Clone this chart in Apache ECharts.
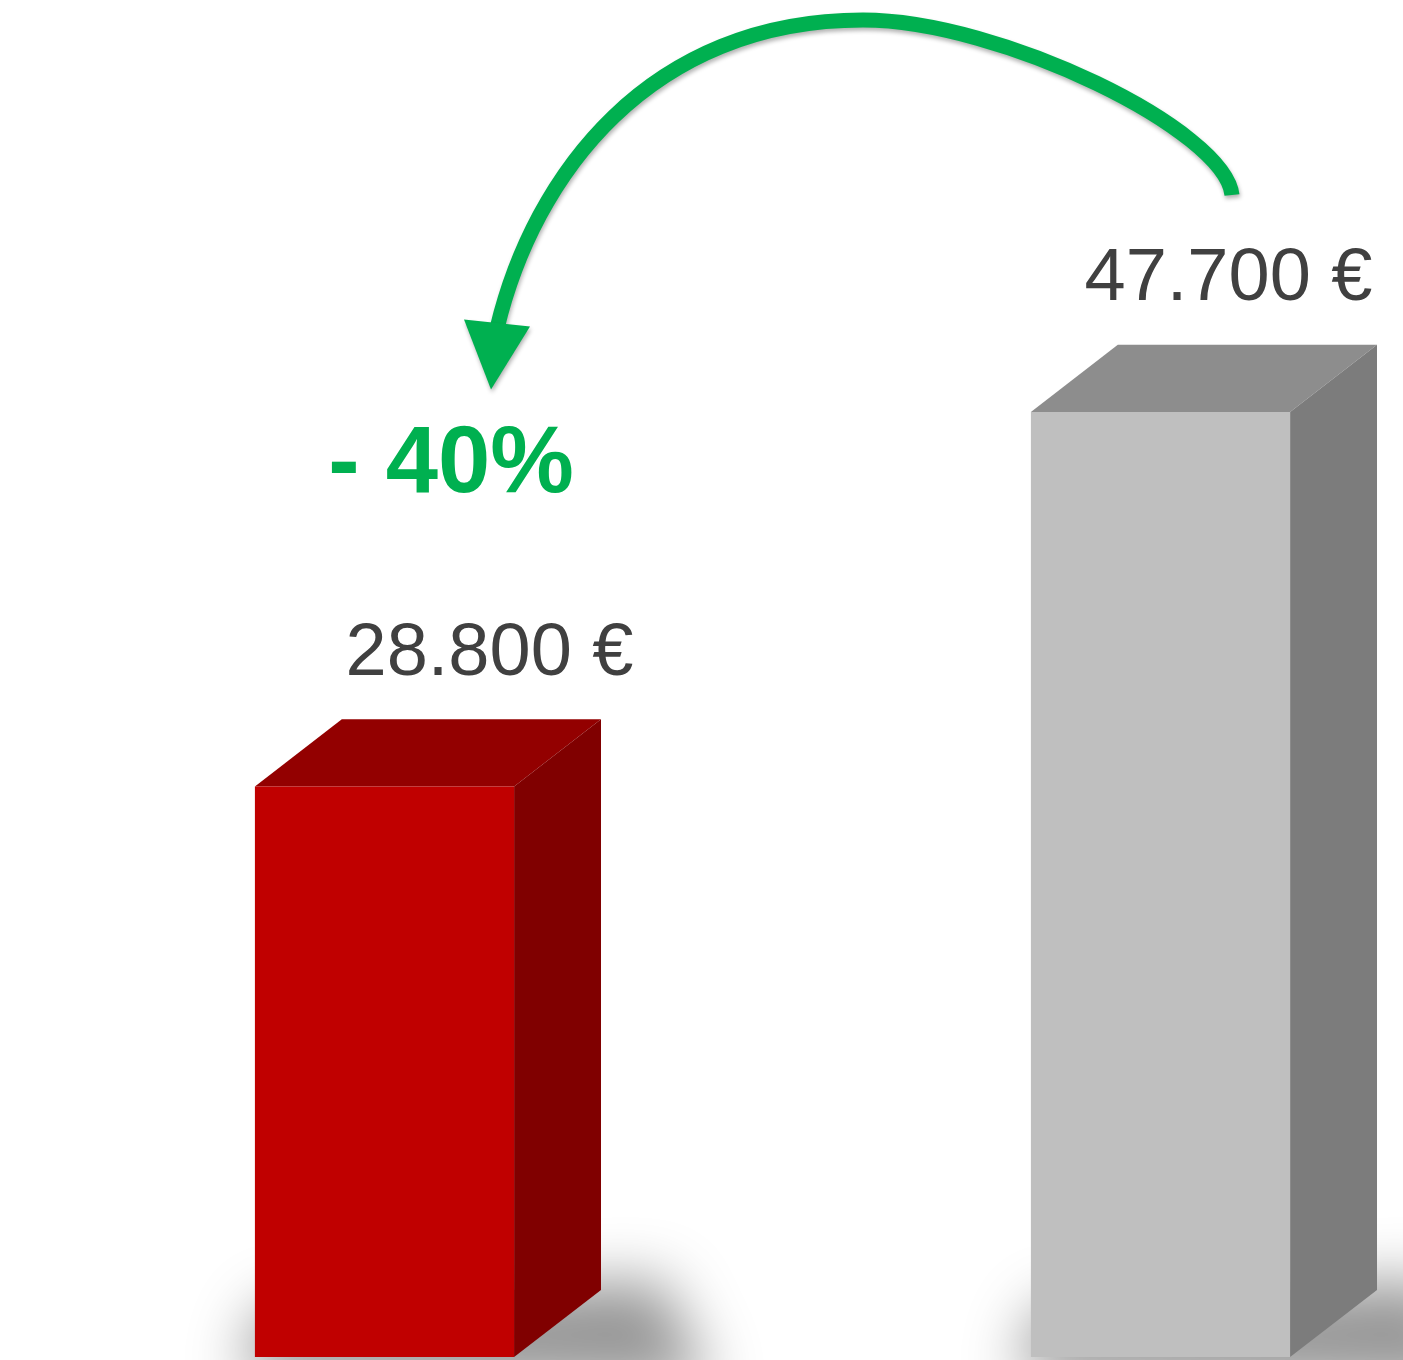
<!DOCTYPE html>
<html><head><meta charset="utf-8">
<script src="https://cdn.jsdelivr.net/npm/echarts@6/dist/echarts.min.js"></script>
<style>html,body{margin:0;padding:0;background:#fff}#c{width:1403px;height:1360px}</style>
</head><body><div id="c"></div>
<script>
// ---- data ----
const categories = ['A', 'B'];
const values = [28800, 47700];
const axisMax = 60000;

// ---- styles ----
const faceFront = ['#C00000', '#BFBFBF'];
const faceTop = ['#930000', '#8D8D8D'];
const faceSide = ['#800000', '#7C7C7C'];
const labelShift = [105, 68];
const green = '#00B050';

function fmt(v) {
  return String(v).replace(/\B(?=(\d{3})+(?!\d))/g, '.') + ' €';
}

function geom(api) {
  const spacing = api.coord([1, 0])[0] - api.coord([0, 0])[0];
  return { w: spacing * 0.334, dx: spacing * 0.112, dy: spacing * 0.0865 };
}

function renderBar(params, api) {
  const i = params.dataIndex;
  const top = api.coord([i, api.value(1)]);
  const bot = api.coord([i, 0]);
  const g = geom(api);
  const x0 = top[0] - g.w / 2, x1 = top[0] + g.w / 2;
  const yt = top[1], yb = bot[1];
  const OFF = 4000;
  const sh = [[x0 - 15, yb + 20], [x0 + 10, yb - 50], [x1 + g.dx + 60, yb - g.dy - 10], [x1 + g.dx + 110, yb + 30]]
    .map(p => [p[0] - OFF, p[1]]);
  return {
    type: 'group',
    children: [
      { type: 'polygon', shape: { points: sh },
        style: { fill: '#000', shadowBlur: 60, shadowColor: 'rgba(0,0,0,0.42)', shadowOffsetX: OFF, shadowOffsetY: 0 } },
      { type: 'polygon', shape: { points: [[x0, yt], [x0 + g.dx, yt - g.dy], [x1 + g.dx, yt - g.dy], [x1, yt]] },
        style: { fill: faceTop[i] } },
      { type: 'polygon', shape: { points: [[x1, yt], [x1 + g.dx, yt - g.dy], [x1 + g.dx, yb - g.dy], [x1, yb]] },
        style: { fill: faceSide[i] } },
      { type: 'rect', shape: { x: x0, y: yt, width: g.w, height: yb - yt },
        style: { fill: faceFront[i] } },
      { type: 'text',
        style: { text: fmt(api.value(1)), x: top[0] + labelShift[i], y: yt - g.dy - 65,
          align: 'center', verticalAlign: 'middle',
          font: '74px "Liberation Sans", Arial, sans-serif', fill: '#404040' } }
    ]
  };
}

function renderArrow(params, api) {
  const R = api.coord([0, values[0]]);
  const G = api.coord([1, values[1]]);
  const P = (b, dx, dy) => [b[0] + dx, b[1] + dy];
  const s0 = P(G, 71.5, -217), s1 = P(G, 64.5, -282), s2 = P(G, -160.5, -392), s3 = P(G, -297.5, -392);
  const t1 = P(R, 265.5, -766.4), t2 = P(R, 149.5, -612.4), t3 = P(R, 112.5, -458);
  const tip = P(R, 106.5, -397), b1 = P(R, 79.5, -467), b2 = P(R, 145.5, -460);
  const pct = Math.round((values[1] - values[0]) / values[1] * 100);
  const f = p => p[0].toFixed(1) + ' ' + p[1].toFixed(1);
  const pathD = 'M ' + f(s0) + ' C ' + f(s1) + ' ' + f(s2) + ' ' + f(s3) +
    ' C ' + f(t1) + ' ' + f(t2) + ' ' + f(t3);
  return {
    type: 'group',
    children: [
      { type: 'path', shape: { pathData: pathD },
        style: { stroke: green, lineWidth: 15, fill: null, lineCap: 'butt', lineJoin: 'round',
          shadowBlur: 4, shadowColor: 'rgba(0,0,0,0.3)', shadowOffsetX: 1, shadowOffsetY: 3 } },
      { type: 'polygon', shape: { points: [b1, tip, b2] },
        style: { fill: green, shadowBlur: 4, shadowColor: 'rgba(0,0,0,0.3)', shadowOffsetX: 1, shadowOffsetY: 3 } },
      { type: 'text',
        style: { text: '- ' + pct + '%', x: R[0] + 66.5, y: R[1] - 320,
          align: 'center', verticalAlign: 'middle',
          font: 'bold 94px "Liberation Sans", Arial, sans-serif', fill: green } }
    ]
  };
}

const chart = echarts.init(document.getElementById('c'), null, { renderer: 'canvas' });
chart.setOption({
  animation: false,
  backgroundColor: '#ffffff',
  grid: { left: 384.5, right: 242.5, top: 168.3, bottom: 3 },
  xAxis: { type: 'category', data: categories, boundaryGap: false, show: false },
  yAxis: { type: 'value', min: 0, max: axisMax, show: false },
  series: [
    { type: 'custom', renderItem: renderBar, clip: false,
      data: values.map((v, i) => [i, v]) },
    { type: 'custom', renderItem: renderArrow, clip: false, data: [[0, values[0]]] }
  ]
});
</script>
</body></html>
